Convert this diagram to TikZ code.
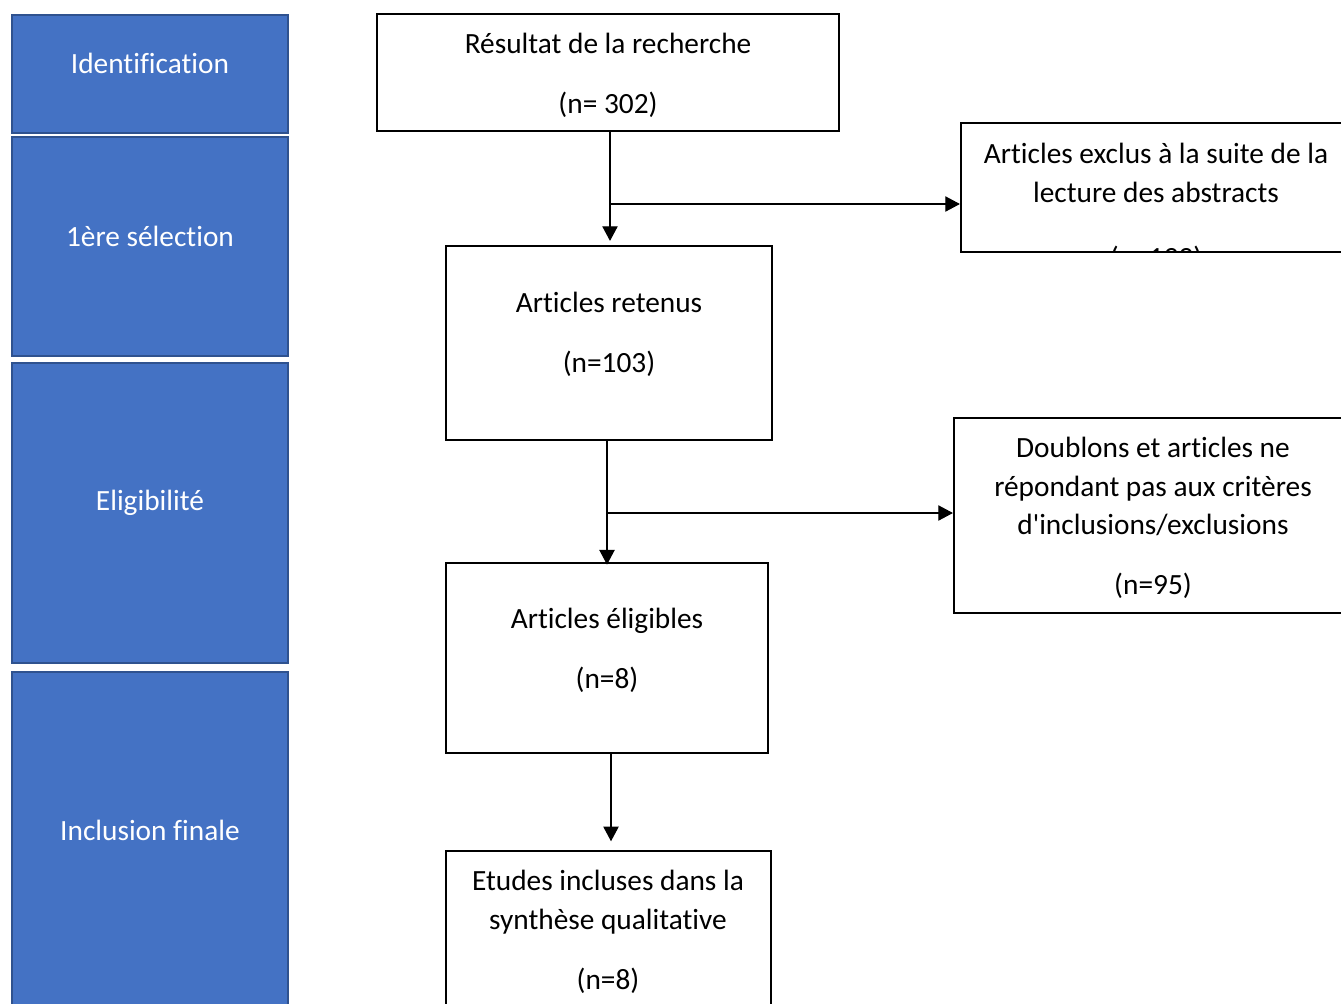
\documentclass[tikz,border=0pt]{standalone}
\usepackage{fontspec}
\setmainfont{Carlito}[Ligatures={NoCommon}]
\usetikzlibrary{arrows.meta, positioning}

\definecolor{phaseblue}{HTML}{4472C4}
\definecolor{phaseedge}{HTML}{2F528F}

\begin{document}
\begin{tikzpicture}[x=0.75pt, y=-0.75pt,
    phase/.style={draw=phaseedge, fill=phaseblue, line width=1.5pt, minimum width=207pt, inner sep=0pt},
    phasetext/.style={text=white, font=\fontsize{22}{29}\selectfont, inner sep=0pt},
    box/.style={draw, line width=1.6pt, inner sep=0pt},
    boxtext/.style={align=center, font=\fontsize{22}{29}\selectfont, inner sep=0pt},
    flow/.style={line width=0.9pt, -{Triangle[width=11.5pt,length=11pt]}}]
    % Page frame in pixels (1341 x 1003), y downwards
    \useasboundingbox (0,0) rectangle (1341,1003);
    \clip (0,0) rectangle (1341,1003);

    % Phases (left column)
    \node[phase, minimum height=88.5pt]  (ph1) at (150,74) {};
    \node[phase, minimum height=164pt]   (ph2) at (150,246.5) {};
    \node[phase, minimum height=225pt]   (ph3) at (150,513) {};
    \node[phase, minimum height=291pt]   (ph4) at (150,866) {};
    \node[phasetext] (ph1t) at (150,63)  {Identification};
    \node[phasetext] (ph2t) at (150,236) {1ère sélection};
    \node[phasetext] (ph3t) at (150,503) {Eligibilité};
    \node[phasetext] (ph4t) at (150,830) {Inclusion finale};

    % Flow boxes
    \node[box, minimum width=346.5pt, minimum height=87.75pt]  (res) at (608,72.5) {};
    \node[box, minimum width=328.5pt, minimum height=96.75pt]  (exc) at (1180,187.5) {};
    \node[box, minimum width=244.5pt, minimum height=145.5pt]  (ret) at (609,343) {};
    \node[box, minimum width=334.5pt, minimum height=146.25pt] (dbl) at (1177,515.5) {};
    \node[box, minimum width=241.5pt, minimum height=142.5pt]  (eli) at (607,658) {};
    \node[box, minimum width=243.75pt, minimum height=156.75pt] (etu) at (608.5,955.5) {};

    % Box texts
    \node[boxtext] (rest) at (608,75) {Résultat de la recherche\\[16pt](n= 302)};
    \node[boxtext] (rett) at (609,334) {Articles retenus\\[16pt](n=103)};
    \node[boxtext] (dblt) at (1153,518) {Doublons et articles ne\\répondant pas aux critères\\d\textquotesingle inclusions/exclusions\\[16pt](n=95)};
    \node[boxtext] (elit) at (607,650) {Articles éligibles\\[16pt](n=8)};
    \node[boxtext] (etut) at (608,932) {Etudes incluses dans la\\synthèse qualitative\\[16pt](n=8)};
    \begin{scope}
        \clip (exc.north west) rectangle ([xshift=-1pt,yshift=1pt]exc.south east);
        \node[boxtext] (exct) at (1156,207.5) {Articles exclus à la suite de la\\lecture des abstracts\\[20pt](n=199)};
    \end{scope}

    % Connectors
    \coordinate (b1) at (610,204);
    \coordinate (b2) at (607,513);
    \draw[flow, shorten >=3pt] ([xshift=1.5pt]res.south) -- ([xshift=1.5pt]res.south |- ret.north);
    \draw[flow] (b1) -- (b1 -| exc.west);
    \draw[flow, shorten >=-2pt] ([xshift=-1.5pt]ret.south) -- ([xshift=-1.5pt]ret.south |- eli.north);
    \draw[flow] (b2) -- (b2 -| dbl.west);
    \draw[flow, shorten >=6.5pt] ([xshift=3pt]eli.south) -- ([xshift=3pt]eli.south |- etu.north);
\end{tikzpicture}
\end{document}
